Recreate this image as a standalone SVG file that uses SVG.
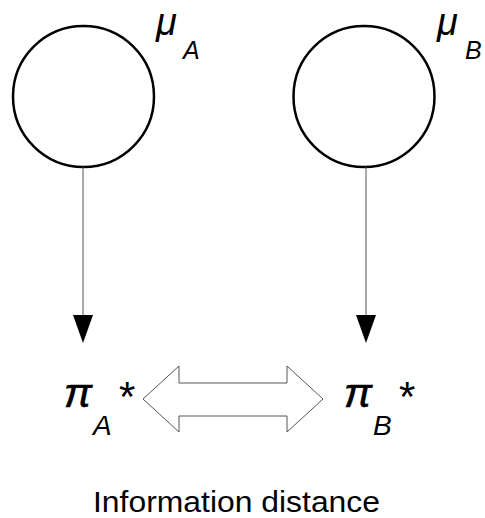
<svg xmlns="http://www.w3.org/2000/svg" width="485" height="518" viewBox="0 0 485 518">
<style>
.node{fill:#fff;stroke:#000;stroke-width:2.5}
.conn{stroke:#555;stroke-width:1;fill:none}
.head{fill:#000}
.t{font-family:"Liberation Sans",Arial,sans-serif;fill:#000}
.it{font-style:italic}
.mu{font-size:38px}
.sub1{font-size:25px}
.pi{font-size:40px;stroke:#000;stroke-width:0.6}
.sub2{font-size:28px}
.ast{font-size:42px}
</style>
<rect width="485" height="518" fill="#fff"/>
<g id="muA">
<circle class="node" cx="83.5" cy="96.5" r="70.5"/>
<text class="t it mu" x="156" y="35">μ</text>
<text class="t it sub1" x="183" y="59">A</text>
</g>
<g id="muB">
<circle class="node" cx="364" cy="96.5" r="70.5"/>
<text class="t it mu" x="437" y="35">μ</text>
<text class="t it sub1" x="465" y="59">B</text>
</g>
<g id="piA">
<text class="t it pi" x="64" y="407" textLength="28" lengthAdjust="spacingAndGlyphs">π</text>
<text class="t it sub2" x="93" y="435">A</text>
<text class="t ast" x="119" y="411">*</text>
</g>
<g id="piB">
<text class="t it pi" x="344" y="407" textLength="28" lengthAdjust="spacingAndGlyphs">π</text>
<text class="t it sub2" x="373" y="435">B</text>
<text class="t ast" x="399" y="411">*</text>
</g>
<g id="connectors">
<line class="conn" x1="83" y1="167" x2="83" y2="316"/>
<path class="head" d="M73,315 L93,315 L83,343 Z"/>
<line class="conn" x1="366" y1="167" x2="366" y2="316"/>
<path class="head" d="M356,315 L376,315 L366,343 Z"/>
<path d="M143,399 L179,366 L179,383 L287,383 L287,366 L323,399 L287,432 L287,416 L179,416 L179,432 Z" fill="#fff" stroke="#555" stroke-width="1"/>
</g>
<g id="label">
<text class="t" x="93" y="512" font-size="29" textLength="287" lengthAdjust="spacingAndGlyphs">Information distance</text>
</g>
</svg>
